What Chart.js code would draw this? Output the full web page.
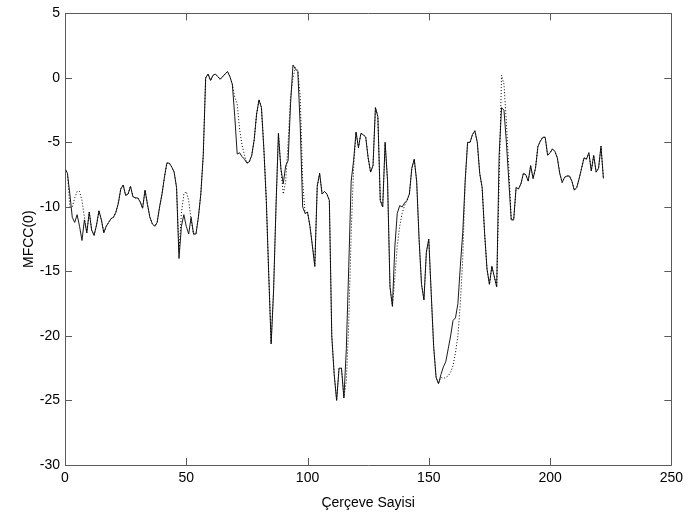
<!DOCTYPE html>
<html>
<head>
<meta charset="utf-8">
<script src="https://cdn.jsdelivr.net/npm/chart.js@4.4.1/dist/chart.umd.min.js"></script>
<style>
html,body{margin:0;padding:0;background:#fff;}
canvas{display:block;}
</style>
</head>
<body>
<canvas id="c" width="688" height="516"></canvas>
<script>
// MFCC(0) per frame (solid line)
const mfccOriginal = [
-7.0,-7.4,-9.0,-10.8,-11.2,-10.6,-11.5,-12.6,-11.0,-12.0,
-10.4,-11.8,-12.2,-11.4,-10.3,-11.0,-12.0,-11.5,-11.2,-10.9,
-10.8,-10.4,-9.7,-8.6,-8.3,-9.1,-9.0,-8.4,-9.2,-9.3,
-9.3,-9.6,-10.1,-8.7,-9.8,-10.8,-11.3,-11.5,-11.2,-10.0,
-9.0,-7.7,-6.6,-6.6,-6.9,-7.3,-8.5,-14.0,-11.5,-10.6,
-11.5,-12.1,-10.8,-12.1,-12.1,-10.8,-9.0,-6.0,0.0,0.3,
-0.2,0.2,0.3,0.1,-0.1,0.1,0.3,0.5,0.1,-0.5,
-3.0,-5.9,-5.8,-6.1,-6.3,-6.6,-6.5,-6.0,-4.8,-2.8,
-1.7,-2.3,-5.5,-9.5,-15.2,-20.6,-16.5,-10.0,-4.3,-7.0,
-8.2,-6.8,-6.4,-2.0,1.0,0.7,0.5,-3.8,-10.0,-10.5,
-10.4,-11.5,-13.0,-14.6,-8.4,-7.4,-9.0,-8.8,-9.0,-9.5,
-20.0,-23.0,-25.0,-22.5,-22.5,-24.8,-21.0,-14.6,-8.0,-6.4,
-4.2,-5.4,-4.3,-4.4,-4.6,-6.2,-7.3,-6.8,-2.3,-3.0,
-9.5,-10.0,-5.0,-8.0,-16.2,-17.7,-13.1,-10.5,-9.9,-10.0,
-9.7,-9.5,-9.0,-7.0,-6.3,-8.0,-12.5,-16.0,-17.2,-13.5,
-12.5,-16.7,-20.8,-23.2,-23.7,-23.0,-22.4,-22.0,-21.0,-20.0,
-18.8,-18.6,-17.5,-14.6,-12.0,-8.0,-5.0,-5.0,-4.4,-4.1,
-5.0,-7.4,-8.5,-12.0,-14.8,-16.0,-14.6,-15.4,-16.2,-6.0,
-2.3,-2.5,-5.0,-8.0,-11.0,-11.0,-8.5,-8.6,-8.2,-7.4,
-7.5,-8.0,-6.8,-7.8,-7.0,-5.3,-4.9,-4.6,-4.6,-6.0,
-5.8,-5.5,-5.7,-6.2,-7.4,-8.1,-7.7,-7.6,-7.6,-8.0,
-8.7,-8.5,-7.8,-7.0,-6.2,-6.3,-5.8,-7.2,-6.0,-7.3,
-7.0,-5.3,-7.8
];
// MFCC(0) per frame (dotted line)
const mfccDotted = [
-7.0,-7.4,-10.0,-10.0,-9.3,-8.8,-8.8,-9.5,-10.8,-12.0,
-10.4,-11.8,-12.2,-11.4,-10.3,-11.0,-12.0,-11.5,-11.2,-10.9,
-10.8,-10.4,-9.7,-8.6,-8.3,-9.1,-9.0,-8.4,-9.2,-9.3,
-9.3,-9.6,-10.1,-8.7,-9.8,-10.8,-11.3,-11.5,-11.2,-10.0,
-9.0,-7.7,-6.6,-6.6,-6.9,-7.3,-8.5,-13.5,-10.5,-9.0,
-8.8,-9.5,-11.0,-12.1,-12.1,-10.8,-9.0,-6.0,0.0,0.3,
-0.2,0.2,0.3,0.1,-0.1,0.1,0.3,0.5,0.1,-0.5,
-1.5,-2.0,-4.0,-5.2,-6.0,-6.6,-6.5,-6.0,-4.8,-2.8,
-1.7,-2.3,-5.5,-9.5,-15.2,-20.6,-16.5,-10.0,-4.3,-7.0,
-9.0,-8.0,-5.0,-1.5,0.0,0.8,0.6,-1.5,-8.0,-10.5,
-10.4,-11.5,-13.0,-14.6,-8.4,-7.4,-9.0,-8.8,-9.0,-9.5,
-20.0,-23.0,-25.0,-22.5,-22.5,-24.8,-23.5,-19.0,-12.0,-7.0,
-4.2,-5.4,-4.3,-4.4,-4.6,-6.2,-7.3,-6.8,-2.3,-3.0,
-9.5,-10.0,-5.0,-8.0,-16.2,-17.7,-15.5,-13.0,-11.5,-10.5,
-9.9,-9.5,-9.0,-7.0,-6.3,-8.0,-12.5,-16.0,-17.2,-13.5,
-12.5,-16.7,-20.8,-23.2,-23.7,-23.2,-23.3,-23.2,-23.1,-22.8,
-22.3,-21.3,-20.0,-17.5,-14.0,-8.0,-5.0,-5.0,-4.4,-4.1,
-5.0,-7.4,-8.5,-12.0,-14.8,-16.0,-14.6,-15.4,-16.2,-8.0,
0.2,-0.5,-3.5,-7.0,-11.0,-11.0,-8.5,-8.6,-8.2,-7.4,
-7.5,-8.0,-6.8,-7.8,-7.0,-5.3,-4.9,-4.6,-4.6,-6.0,
-5.8,-5.5,-5.7,-6.2,-7.4,-8.1,-7.7,-7.6,-7.6,-8.0,
-8.7,-8.5,-7.8,-7.0,-6.2,-6.3,-5.8,-7.2,-6.0,-7.3,
-7.0,-5.3,-7.8
];
const frames = mfccOriginal.map((_, i) => i);
const xTicks = [0, 50, 100, 150, 200, 250];
const yTicks = [5, 0, -5, -10, -15, -20, -25, -30];

const FONT = {family: 'Liberation Sans, Arial, sans-serif', size: 14};

const boxPlugin = {
  id: 'box',
  afterDatasetsDraw(chart) {
    const {ctx, chartArea: a, scales: {x, y}} = chart;
    ctx.save();
    ctx.strokeStyle = '#5a5a5a';
    ctx.lineWidth = 1;
    ctx.beginPath();
    ctx.rect(Math.round(a.left) + 0.5, Math.round(a.top) + 0.5,
             Math.round(a.right - a.left), Math.round(a.bottom - a.top));
    ctx.stroke();
    const L = 7;
    ctx.beginPath();
    xTicks.forEach(v => {
      const px = Math.round(x.getPixelForValue(v)) + 0.5;
      ctx.moveTo(px, a.bottom); ctx.lineTo(px, a.bottom - L);
      ctx.moveTo(px, a.top); ctx.lineTo(px, a.top + L);
    });
    yTicks.forEach(v => {
      const py = Math.round(y.getPixelForValue(v)) + 0.5;
      ctx.moveTo(a.left, py); ctx.lineTo(a.left + L, py);
      ctx.moveTo(a.right, py); ctx.lineTo(a.right - L, py);
    });
    ctx.stroke();
    ctx.restore();
  }
};

new Chart(document.getElementById('c'), {
  type: 'line',
  data: {
    datasets: [
      {
        label: 'dotted',
        data: frames.map((f, i) => ({x: f, y: mfccDotted[i]})),
        borderColor: '#000',
        borderWidth: 1,
        borderDash: [1, 2],
        pointRadius: 0,
        tension: 0,
        fill: false
      },
      {
        label: 'solid',
        data: frames.map((f, i) => ({x: f, y: mfccOriginal[i]})),
        borderColor: '#1a1a1a',
        borderWidth: 1,
        pointRadius: 0,
        tension: 0,
        fill: false
      }
    ]
  },
  options: {
    responsive: false,
    animation: false,
    devicePixelRatio: 1,
    layout: {padding: {left: 0, top: 13, right: 10, bottom: 0}},
    plugins: {legend: {display: false}, tooltip: {enabled: false}},
    scales: {
      x: {
        type: 'linear', min: 0, max: 250,
        afterBuildTicks: s => { s.ticks = xTicks.map(v => ({value: v})); },
        afterFit: s => { s.height = 51; },
        grid: {display: false, drawTicks: false},
        border: {display: false},
        ticks: {color: '#000', font: FONT, padding: 5, maxRotation: 0, autoSkip: false},
        title: {display: true, text: 'Çerçeve Sayisi', color: '#000', font: FONT, padding: {top: 0, bottom: 4}}
      },
      y: {
        type: 'linear', min: -30, max: 5,
        afterBuildTicks: s => { s.ticks = yTicks.map(v => ({value: v})); },
        afterFit: s => { s.width = 65; },
        grid: {display: false, drawTicks: false},
        border: {display: false},
        ticks: {color: '#000', font: FONT, padding: 5, autoSkip: false},
        title: {display: true, text: 'MFCC(0)', color: '#000', font: FONT, padding: {top: 21, bottom: 0}}
      }
    }
  },
  plugins: [boxPlugin]
});
</script>
</body>
</html>
